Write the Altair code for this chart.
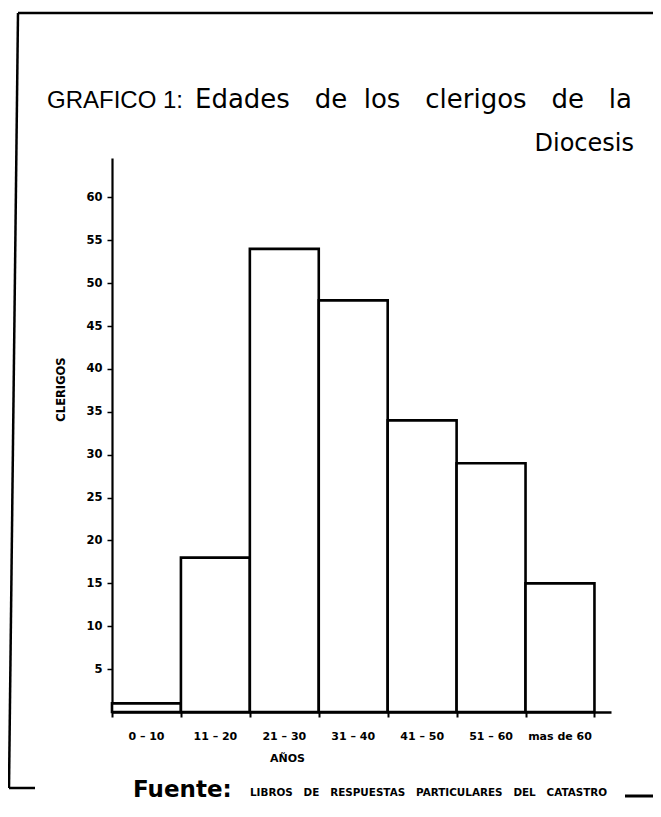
import altair as alt
import pandas as pd
import numpy as np

# ---- data ----
categories = ["0 – 10", "11 – 20", "21 – 30", "31 – 40", "41 – 50", "51 – 60", "mas de 60"]
clerigos = [1, 18, 54, 48, 34, 29, 15]
y_ticks = [5, 10, 15, 20, 25, 30, 35, 40, 45, 50, 55, 60]

NB = "\u00a0"
title_a = "GRAFICO 1:"
title_b = ("Edades" + NB * 3 + "de" + NB * 2 + "los" + NB * 3 + "clerigos" + NB * 3 +
           "de" + NB * 3 + "la")
title_c = "Diocesis"
source_a = "Fuente:"
source_b = ("LIBROS" + NB * 3 + "DE" + NB * 3 + "RESPUESTAS" + NB * 3 + "PARTICULARES" +
            NB * 3 + "DEL" + NB * 3 + "CATASTRO")
x_title = "AÑOS"
y_title = "CLERIGOS"

df = pd.DataFrame({"cat": categories, "n": clerigos})
df["i0"] = np.arange(len(df))
df["i1"] = df["i0"] + 1
df["mid"] = df["i0"] + 0.5

W, H = 499, 554
PADL, PADT = 104, 150
TOTW, TOTH = 645, 795

xscale = alt.Scale(domain=[0, 7.24], nice=False, zero=False)
yscale = alt.Scale(domain=[0, 64.6], nice=False)

FONT = "DejaVu Sans"

bars = alt.Chart(df).mark_rect(
    fill="white", stroke="black", strokeWidth=2.6, strokeJoin="miter"
).encode(
    x=alt.X("i0:Q", scale=xscale,
            axis=alt.Axis(values=list(range(len(categories) + 1)), labels=False,
                          title=x_title, titleX=175, titleY=46, titleBaseline="middle",
                          titleAlign="center", titleFont=FONT, titleFontSize=11,
                          titleFontWeight="bold", titleColor="black",
                          domainColor="black", domainWidth=2.5, tickColor="black",
                          tickWidth=2, tickSize=5, grid=False)),
    x2="i1:Q",
    y=alt.Y("n:Q", scale=yscale,
            axis=alt.Axis(values=y_ticks, title=y_title, titleX=-51, titleY=231,
                          titleAngle=270, titleBaseline="middle", titleAlign="center",
                          titleFont=FONT, titleFontSize=11.5, titleFontWeight="bold",
                          titleColor="black", labelFont=FONT, labelFontSize=11.5,
                          labelFontWeight="bold", labelColor="black", labelPadding=5,
                          domainColor="black", domainWidth=2.2, tickColor="black",
                          tickWidth=1.5, tickSize=5, grid=False)),
    y2=alt.datum(0),
)

labels = alt.Chart(df).mark_text(
    font=FONT, fontSize=11, fontWeight="bold", color="black", baseline="middle"
).encode(
    x=alt.X("mid:Q", scale=xscale),
    y=alt.value(H + 25),
    text="cat:N",
)

one = pd.DataFrame({"k": [0]})


def txt(s, x, y, **kw):
    return alt.Chart(pd.DataFrame({"t": [s]})).mark_text(
        color="black", baseline="alphabetic", **kw
    ).encode(x=alt.value(x), y=alt.value(y), text="t:N")


def rule(x, y, x2, y2, w=2.5):
    return alt.Chart(one).mark_rule(color="black", strokeWidth=w).encode(
        x=alt.value(x), y=alt.value(y), x2=alt.value(x2), y2=alt.value(y2)
    )


# page -> chart coords: cx = px - 112, cy = py - 158
frame = [
    rule(-94, -145, 541, -145, 2.5),
    rule(-94, -145, -103, 630, 2.5),
    rule(-103, 630, -77, 630, 2.5),
    rule(513, 638, 541, 638, 3),
]

texts = [
    txt(title_a, -65, -50, font="Liberation Sans", fontSize=24, align="left"),
    txt(title_b, 83, -50, font=FONT, fontSize=26, align="left"),
    txt(title_c, 522, -7, font=FONT, fontSize=24, align="right"),
    txt(source_a, 21, 639, font=FONT, fontSize=23, fontWeight="bold", align="left"),
    txt(source_b, 138, 638, font=FONT, fontSize=10.4, fontWeight="bold", align="left"),
]

chart = alt.layer(bars, labels, *frame, *texts).properties(
    width=W, height=H,
    autosize=alt.AutoSizeParams(type="none"),
    padding={"left": PADL, "top": PADT, "right": TOTW - PADL - W, "bottom": TOTH - PADT - H},
    background="white",
).configure_view(stroke=None)

chart.save("out.html", embed_options={"renderer": "svg", "actions": False})
